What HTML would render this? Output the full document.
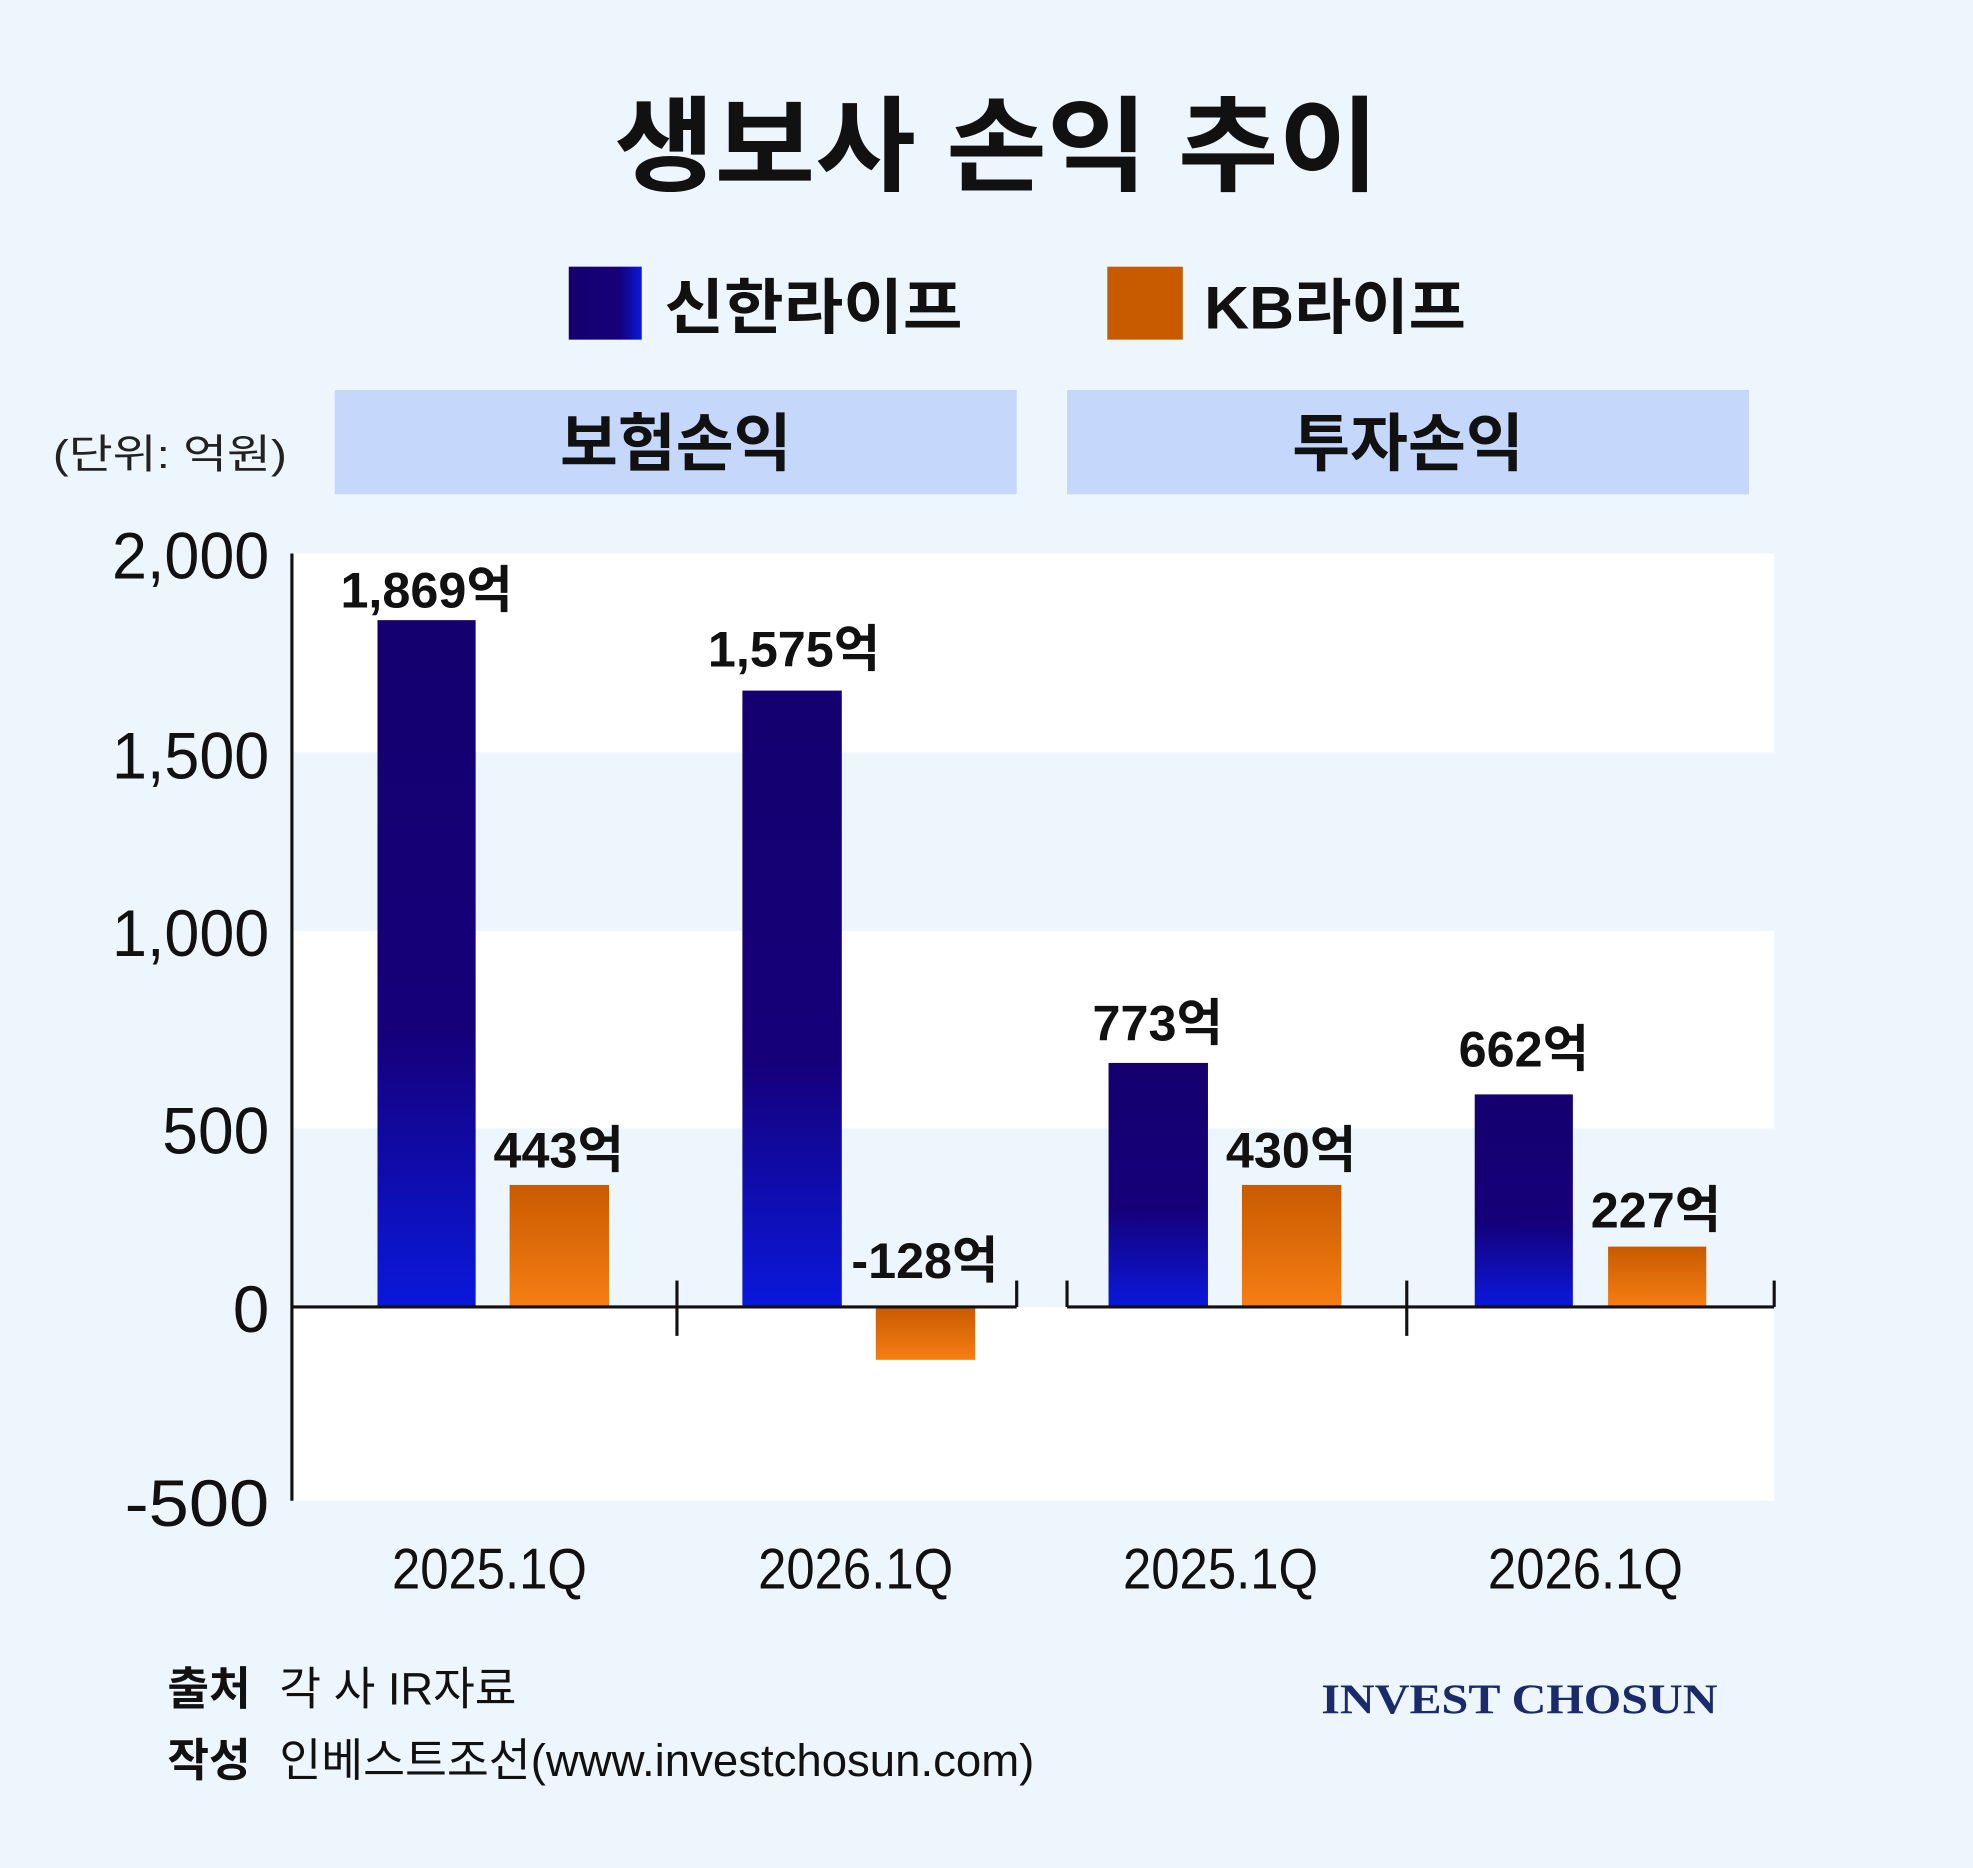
<!DOCTYPE html>
<html><head><meta charset="utf-8"><style>
html,body{margin:0;padding:0;background:#eef6fd;}
svg{display:block}
text{font-family:"Liberation Sans","Noto Sans CJK KR",sans-serif;}
</style></head><body>
<svg width="1973" height="1868" viewBox="0 0 1568 1485" preserveAspectRatio="none" xmlns="http://www.w3.org/2000/svg">
<defs>
<linearGradient id="gb" x1="0" y1="0" x2="0" y2="1"><stop offset="0" stop-color="#15006f"/><stop offset="0.6" stop-color="#15007a"/><stop offset="1" stop-color="#0a18dc"/></linearGradient>
<linearGradient id="go" x1="0" y1="0" x2="0" y2="1"><stop offset="0" stop-color="#c85a00"/><stop offset="1" stop-color="#f67e14"/></linearGradient>
<linearGradient id="gl" x1="0" y1="0" x2="1" y2="0"><stop offset="0" stop-color="#15006f"/><stop offset="0.7" stop-color="#15007a"/><stop offset="1" stop-color="#0a18dc"/></linearGradient>
</defs>
<rect width="1568" height="1485" fill="#eef6fd"/>
<text x="792" y="145" font-size="82" font-weight="bold" text-anchor="middle" fill="#111" textLength="608" lengthAdjust="spacingAndGlyphs">생보사 손익 추이</text>
<rect x="452" y="212" width="58" height="58" fill="url(#gl)"/>
<text x="528" y="261" font-size="48" font-weight="bold" fill="#111" textLength="237" lengthAdjust="spacingAndGlyphs">신한라이프</text>
<rect x="880" y="212" width="60" height="58" fill="#c85a00"/>
<text x="957" y="261" font-size="48" font-weight="bold" fill="#111" textLength="208" lengthAdjust="spacingAndGlyphs">KB라이프</text>
<rect x="266" y="310" width="542" height="83" fill="#c5d8fb"/>
<text x="537" y="370" font-size="50" font-weight="bold" text-anchor="middle" fill="#111">보험손익</text>
<rect x="848" y="310" width="542" height="83" fill="#c5d8fb"/>
<text x="1119" y="370" font-size="50" font-weight="bold" text-anchor="middle" fill="#111">투자손익</text>
<text x="42" y="372" font-size="32" fill="#222" textLength="186" lengthAdjust="spacingAndGlyphs">(단위: 억원)</text>
<rect x="232" y="440" width="1178" height="158" fill="#fff"/>
<rect x="232" y="740" width="1178" height="157" fill="#fff"/>
<rect x="232" y="1039" width="1178" height="154" fill="#fff"/>
<g font-size="52" fill="#111" text-anchor="end">
<text x="214" y="460" textLength="125" lengthAdjust="spacingAndGlyphs">2,000</text>
<text x="214" y="619" textLength="125" lengthAdjust="spacingAndGlyphs">1,500</text>
<text x="214" y="760" textLength="125" lengthAdjust="spacingAndGlyphs">1,000</text>
<text x="214" y="917" textLength="85" lengthAdjust="spacingAndGlyphs">500</text>
<text x="214" y="1059">0</text>
<text x="214" y="1213" textLength="115" lengthAdjust="spacingAndGlyphs">-500</text>
</g>
<rect x="300" y="493" width="78" height="546" fill="url(#gb)"/>
<rect x="405" y="942" width="79" height="97" fill="url(#go)"/>
<rect x="590" y="549" width="79" height="490" fill="url(#gb)"/>
<rect x="696" y="1039" width="79" height="42" fill="url(#go)"/>
<rect x="881" y="845" width="79" height="194" fill="url(#gb)"/>
<rect x="987" y="942" width="79" height="97" fill="url(#go)"/>
<rect x="1172" y="870" width="78" height="169" fill="url(#gb)"/>
<rect x="1278" y="991" width="78" height="48" fill="url(#go)"/>
<g stroke="#111" stroke-width="2.5" fill="none">
<line x1="232" y1="440" x2="232" y2="1193"/>
<line x1="232" y1="1039" x2="808" y2="1039"/>
<line x1="848" y1="1039" x2="1410" y2="1039"/>
<line x1="538" y1="1018" x2="538" y2="1062"/>
<line x1="808" y1="1018" x2="808" y2="1039"/>
<line x1="848" y1="1018" x2="848" y2="1039"/>
<line x1="1118" y1="1018" x2="1118" y2="1062"/>
<line x1="1410" y1="1018" x2="1410" y2="1039"/>
</g>
<g font-size="40" font-weight="bold" fill="#111" text-anchor="middle">
<text x="339" y="483">1,869억</text>
<text x="444" y="928">443억</text>
<text x="631" y="530">1,575억</text>
<text x="735" y="1016">-128억</text>
<text x="920" y="827">773억</text>
<text x="1026" y="928">430억</text>
<text x="1211" y="848">662억</text>
<text x="1316" y="976">227억</text>
</g>
<g font-size="46" fill="#111" text-anchor="middle">
<text x="389" y="1263" textLength="155" lengthAdjust="spacingAndGlyphs">2025.1Q</text>
<text x="680" y="1263" textLength="155" lengthAdjust="spacingAndGlyphs">2026.1Q</text>
<text x="970" y="1263" textLength="155" lengthAdjust="spacingAndGlyphs">2025.1Q</text>
<text x="1260" y="1263" textLength="155" lengthAdjust="spacingAndGlyphs">2026.1Q</text>
</g>
<text x="133" y="1355" font-size="36" font-weight="bold" fill="#111">출처</text>
<text x="222" y="1355" font-size="36" fill="#111">각 사 IR자료</text>
<text x="133" y="1412" font-size="36" font-weight="bold" fill="#111">작성</text>
<text x="222" y="1412" font-size="36" fill="#111" textLength="600" lengthAdjust="spacingAndGlyphs">인베스트조선(www.investchosun.com)</text>
<text x="1050" y="1362" font-size="34" font-weight="bold" fill="#1a2a6a" style="font-family:'Liberation Serif',serif" textLength="315" lengthAdjust="spacingAndGlyphs">INVEST CHOSUN</text>
</svg>
</body></html>
